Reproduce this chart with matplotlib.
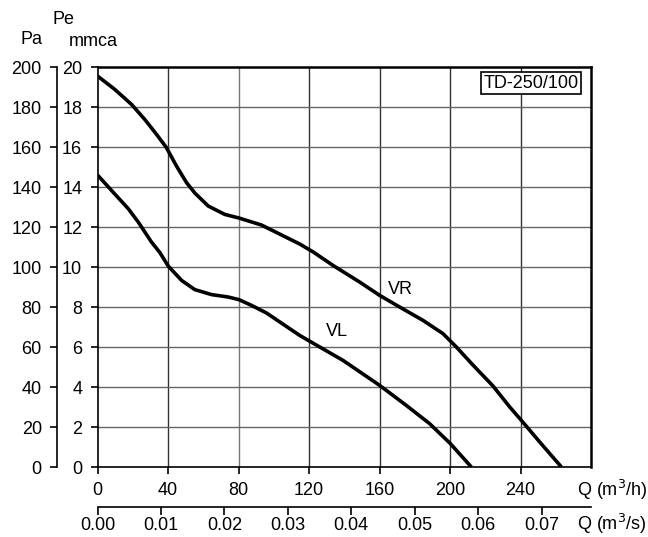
import matplotlib
matplotlib.use('Agg')
import matplotlib.pyplot as plt

plt.rcParams['font.family'] = ['Liberation Sans', 'DejaVu Sans']
plt.rcParams['font.size'] = 13

# Curves: flow Q in m3/h, pressure Pe in mmca
vr_q = [0, 9.8, 19.3, 26.8, 33.5, 39.1, 44.8, 50.5, 55.2, 62.8, 72.2, 80.2,
        93.0, 104.4, 114.7, 122.4, 133.6, 148.7, 160.1, 171.4, 184.7, 196.0,
        203.6, 213.0, 224.4, 233.9, 240.5, 250.9, 263.2]
vr_p = [19.55, 18.88, 18.13, 17.38, 16.63, 15.97, 15.05, 14.22, 13.7, 13.05,
        12.63, 12.45, 12.1, 11.6, 11.15, 10.75, 10.08, 9.25, 8.58, 8.0, 7.33,
        6.67, 6.0, 5.1, 4.05, 3.0, 2.33, 1.25, 0]

vl_q = [0, 9.8, 17.4, 23.1, 30.6, 35.4, 40.1, 47.7, 55.2, 64.7, 74.1, 80.2,
        87.4, 95.9, 114.7, 126.1, 139.3, 160.1, 175.2, 188.4, 200.2, 212.1]
vl_p = [14.6, 13.65, 12.92, 12.25, 11.25, 10.72, 10.05, 9.33, 8.87, 8.62, 8.5,
        8.37, 8.08, 7.7, 6.58, 6.0, 5.33, 4.08, 3.08, 2.17, 1.17, 0]

q_ticks = [0, 40, 80, 120, 160, 200, 240]
mmca_ticks = [0, 2, 4, 6, 8, 10, 12, 14, 16, 18, 20]
pa_ticks = [0, 20, 40, 60, 80, 100, 120, 140, 160, 180, 200]
qs_ticks = [0.00, 0.01, 0.02, 0.03, 0.04, 0.05, 0.06, 0.07]

W, H = 648, 537
fig = plt.figure(figsize=(W / 100, H / 100), dpi=100)
left, right, top, bottom = 97.5, 591, 67, 467
ax = fig.add_axes([left / W, 1 - bottom / H, (right - left) / W, (bottom - top) / H])

ax.set_xlim(0, 280)
ax.set_ylim(0, 20)

# grid
for q in range(40, 280, 40):
    ax.axvline(q, color='#333333' if q != 80 else '#777777', lw=1.0, zorder=1)
for p in range(2, 20, 2):
    ax.axhline(p, color='#666666', lw=1.0, zorder=1)

ax.plot(vr_q, vr_p, color='black', lw=2.6, zorder=3, solid_capstyle='butt',
        solid_joinstyle='round')
ax.plot(vl_q, vl_p, color='black', lw=2.6, zorder=3, solid_capstyle='butt',
        solid_joinstyle='round')

ax.text(172, 8.85, 'VR', ha='center', va='center')
ax.text(136, 6.75, 'VL', ha='center', va='center')

ax.text(0.878, 0.96, 'TD-250/100', transform=ax.transAxes, ha='center', va='center',
        bbox=dict(boxstyle='square,pad=0.15', fc='white', ec='black', lw=1.2),
        zorder=5)

for s in ['top', 'right']:
    ax.spines[s].set_linewidth(1.8)
for s in ['left', 'bottom']:
    ax.spines[s].set_linewidth(1.2)

ax.set_xticks(q_ticks)
ax.set_yticks(mmca_ticks)
ax.tick_params(axis='x', direction='out', length=5, width=1.2, pad=6)
ax.tick_params(axis='y', direction='out', length=5, width=1.2, pad=6)

# Pa axis
pa = ax.secondary_yaxis(-0.082, functions=(lambda x: x * 10, lambda x: x / 10))
pa.set_yticks(pa_ticks)
pa.spines['left'].set_linewidth(1.2)
pa.tick_params(direction='out', length=5, width=1.2, pad=6)

# m3/s axis
qs = ax.secondary_xaxis(-0.1, functions=(lambda x: x / 3600, lambda x: x * 3600))
qs.set_xticks(qs_ticks)
qs.set_xticklabels([f'{v:.2f}' for v in qs_ticks])
qs.spines['bottom'].set_linewidth(1.2)
qs.spines['bottom'].set_bounds(0, 280 / 3600)
qs.tick_params(direction='out', length=6, width=1.2, pad=1.5)

fig.text(31 / W, 1 - 40 / H, 'Pa', ha='center', va='center')
fig.text(64 / W, 1 - 20 / H, 'Pe', ha='center', va='center')
fig.text(93 / W, 1 - 41 / H, 'mmca', ha='center', va='center')
fig.text(612 / W, 1 - 490 / H, 'Q (m$^3$/h)', ha='center', va='center')
fig.text(612 / W, 1 - 524 / H, 'Q (m$^3$/s)', ha='center', va='center')

fig.savefig('out.png', dpi=100)
